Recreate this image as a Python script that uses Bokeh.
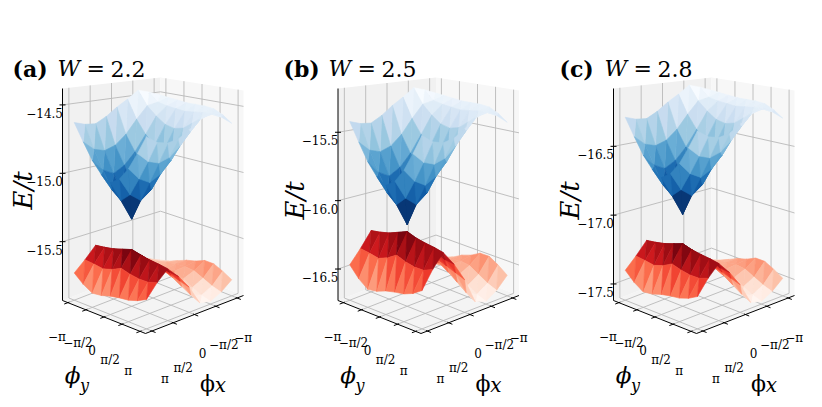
import numpy as np
from bokeh.plotting import figure
from bokeh.models import Range1d
from bokeh.embed import file_html
from bokeh.resources import INLINE
from bokeh.core.properties import value
from bokeh.palettes import Blues256, Reds256

# ---------------- data ----------------
panel_tags = ["(a)", "(b)", "(c)"]
w_values = ["2.2", "2.5", "2.8"]
# grid nodes of the twist angles, in units of pi (rows: phi_y, columns: phi_x)
phi_nodes = [-1.0, -0.75, -0.5, -0.25, 0.0, 0.25, 0.5, 0.75, 1.0]
phi_ticks = [-1.0, -0.5, 0.0, 0.5, 1.0]
phi_tick_labels = ["−π", "−π/2", "0", "π/2", "π"]
z_ticks = [[-14.5, -15.0, -15.5], [-15.5, -16.0, -16.5], [-16.5, -17.0, -17.5]]
z_tick_labels = [["−14.5", "−15.0", "−15.5"],
                 ["−15.5", "−16.0", "−16.5"],
                 ["−16.5", "−17.0", "−17.5"]]
z_limits = [(-15.93, -14.38), (-16.73, -15.18), (-17.62, -16.08)]
upper_band_range = [(-15.30, -14.45), (-16.14, -15.23), (-16.96, -16.11)]
lower_band_range = [(-15.91, -15.52), (-16.71, -16.19), (-17.60, -17.17)]
# relative height inside each band (0 = band minimum, 1 = band maximum)
upper_band_shape = [
    [0.93, 0.97, 1.00, 0.93, 0.87, 0.80, 0.75, 0.76, 0.79],
    [0.92, 0.89, 0.87, 0.76, 0.64, 0.56, 0.53, 0.56, 0.64],
    [0.91, 0.87, 0.79, 0.64, 0.50, 0.40, 0.35, 0.40, 0.50],
    [0.90, 0.86, 0.73, 0.56, 0.40, 0.25, 0.18, 0.25, 0.40],
    [0.90, 0.85, 0.71, 0.53, 0.35, 0.18, 0.00, 0.18, 0.35],
    [0.90, 0.86, 0.73, 0.56, 0.40, 0.25, 0.18, 0.25, 0.40],
    [0.89, 0.87, 0.79, 0.64, 0.50, 0.40, 0.35, 0.40, 0.50],
    [0.85, 0.87, 0.85, 0.75, 0.64, 0.56, 0.53, 0.56, 0.64],
    [0.79, 0.86, 0.90, 0.86, 0.79, 0.73, 0.71, 0.73, 0.79],
]
lower_band_shape = [
    [0.10, 0.21, 0.33, 0.46, 0.59, 0.72, 0.85, 0.64, 0.46],
    [0.15, 0.23, 0.28, 0.41, 0.56, 0.72, 0.87, 0.62, 0.31],
    [0.23, 0.28, 0.26, 0.38, 0.56, 0.74, 0.90, 0.59, 0.21],
    [0.31, 0.31, 0.28, 0.38, 0.59, 0.79, 0.95, 0.64, 0.23],
    [0.36, 0.33, 0.31, 0.41, 0.62, 0.82, 1.00, 0.72, 0.28],
    [0.44, 0.31, 0.23, 0.33, 0.56, 0.77, 0.95, 0.67, 0.31],
    [0.44, 0.23, 0.13, 0.23, 0.51, 0.74, 0.92, 0.64, 0.33],
    [0.36, 0.15, 0.05, 0.13, 0.46, 0.69, 0.90, 0.64, 0.38],
    [0.26, 0.10, 0.00, 0.05, 0.41, 0.67, 0.87, 0.69, 0.46],
]

# ---------------- layout / projection ----------------
W_PX, H_PX = 820, 405
BOX_OX = [0.0, 275.5, 551.0]
TITLE_OX = [0.0, 271.0, 547.0]
YLABEL_POS = [(22, 190), (294, 200), (569, 200)]
MARGIN = 0.065
PHIY_LBL_OFF = [(-11, 34), (-8, 33), (-12, 33), (-12, 36), (-12, 40)]
PHIX_LBL_OFF = [(6, 40), (8, 39), (8, 38), (10, 45), (13, 48)]
SERIF = value("DejaVu Serif")


def to_ab(phx, phy):
    a = MARGIN + (1 - 2 * MARGIN) * (np.asarray(phy, float) + 1) / 2
    b = MARGIN + (1 - 2 * MARGIN) * (1 - np.asarray(phx, float)) / 2
    return a, b


def proj(a, b, t, ox):
    a = np.asarray(a, float); b = np.asarray(b, float); t = np.asarray(t, float)
    x = ox + 62 + 83 * a + 98 * b
    yf = 300 + 33 * a - 38 * b
    h = 212 * (1 - a) * (1 - b) + 232 * a * (1 - b) + 205 * a * b + 185 * (1 - a) * b
    return x, yf - h * t


def depth(a, b, t):
    return 90.8 * a - 76.9 * b + 84.8 * t


def lum(hx):
    return int(hx[1:3], 16) + int(hx[3:5], 16) + int(hx[5:7], 16)


blues = list(Blues256)
if lum(blues[0]) > lum(blues[-1]):
    blues = blues[::-1]
reds = list(Reds256)
if lum(reds[0]) > lum(reds[-1]):
    reds = reds[::-1]

p = figure(width=W_PX, height=H_PX, x_range=Range1d(0, W_PX),
           y_range=Range1d(H_PX, 0), output_backend="svg",
           toolbar_location=None, x_axis_type=None, y_axis_type=None,
           min_border=0)
p.outline_line_color = None
p.background_fill_color = "white"
p.border_fill_color = "white"

nodes = np.array(phi_nodes)
PX, PY = np.meshgrid(nodes, nodes)
A, B = to_ab(PX, PY)

for k in range(3):
    ox = BOX_OX[k]
    zlo, zhi = z_limits[k]

    # panes: floor, wall at phi_y = min (a=0), wall at phi_x = min (b=1)
    sq = [(0, 0), (1, 0), (1, 1), (0, 1)]
    pxs, pys = [], []
    x, y = proj([c[0] for c in sq], [c[1] for c in sq], [0] * 4, ox)
    pxs.append(list(x)); pys.append(list(y))
    x, y = proj([0] * 4, [c[0] for c in sq], [c[1] for c in sq], ox)
    pxs.append(list(x)); pys.append(list(y))
    x, y = proj([c[0] for c in sq], [1] * 4, [c[1] for c in sq], ox)
    pxs.append(list(x)); pys.append(list(y))
    p.patches(pxs, pys, fill_color=["#f4f4f4", "#f1f1f1", "#f7f7f7"], line_color=None)

    # grid lines
    gx, gy = [], []
    tick_a, _ = to_ab(np.zeros(5), phi_ticks)
    _, tick_b = to_ab(phi_ticks, np.zeros(5))
    tz = [(z - zlo) / (zhi - zlo) for z in z_ticks[k]]
    for bb in tick_b:
        x, y = proj([0, 1], [bb, bb], [0, 0], ox); gx.append(list(x)); gy.append(list(y))
        x, y = proj([0, 0], [bb, bb], [0, 1], ox); gx.append(list(x)); gy.append(list(y))
    for aa in tick_a:
        x, y = proj([aa, aa], [0, 1], [0, 0], ox); gx.append(list(x)); gy.append(list(y))
        x, y = proj([aa, aa], [1, 1], [0, 1], ox); gx.append(list(x)); gy.append(list(y))
    for tt in tz:
        x, y = proj([0, 0], [0, 1], [tt, tt], ox); gx.append(list(x)); gy.append(list(y))
        x, y = proj([0, 1], [1, 1], [tt, tt], ox); gx.append(list(x)); gy.append(list(y))
    p.multi_line(gx, gy, line_color="#b9b9b9", line_width=0.9)

    # axis lines and tick marks
    ax_x, ax_y = [], []
    x, y = proj([0, 0], [0, 0], [0, 1], ox); ax_x.append(list(x)); ax_y.append(list(y))
    x, y = proj([0, 1], [0, 0], [0, 0], ox); ax_x.append(list(x)); ax_y.append(list(y))
    x, y = proj([1, 1], [0, 1], [0, 0], ox); ax_x.append(list(x)); ax_y.append(list(y))
    for aa in tick_a:
        x, y = proj([aa], [0], [0], ox)
        ax_x.append([x[0] + 1.4, x[0] - 3.7]); ax_y.append([y[0] - 0.5, y[0] + 1.4])
    for bb in tick_b:
        x, y = proj([1], [bb], [0], ox)
        ax_x.append([x[0] - 1.4, x[0] + 3.7]); ax_y.append([y[0] - 0.5, y[0] + 1.5])
    for tt in tz:
        x, y = proj([0], [0], [tt], ox)
        ax_x.append([x[0] - 3, x[0] + 3]); ax_y.append([y[0], y[0]])
    p.multi_line(ax_x, ax_y, line_color="black", line_width=1.0)

    # surfaces: each grid cell drawn as two triangles of data nodes,
    # painted far to near
    faces = []
    for shape, rng, kind in ((upper_band_shape, upper_band_range[k], "up"),
                             (lower_band_shape, lower_band_range[k], "low")):
        Z = rng[0] + (rng[1] - rng[0]) * np.array(shape)
        T = (Z - zlo) / (zhi - zlo)
        X, Y = proj(A, B, T, ox)
        D = depth(A, B, T)
        avg = []
        polys = []
        for i in range(8):
            for j in range(8):
                for idx in ([(i, j), (i, j + 1), (i + 1, j + 1)],
                            [(i, j), (i + 1, j + 1), (i + 1, j)]):
                    xs = [X[q] for q in idx]
                    ys = [Y[q] for q in idx]
                    polys.append((xs, ys, np.mean([D[q] for q in idx])))
                    avg.append(np.mean([Z[q] for q in idx]))
        avg = np.array(avg)
        u = (avg - avg.min()) / (avg.max() - avg.min())
        for (xs, ys, dav), uu in zip(polys, u):
            if kind == "up":
                col = blues[int(round(uu * 255))]
            else:
                col = reds[int(round((1 - uu) * 255))]
            faces.append((dav, xs, ys, col))
    faces.sort(key=lambda f: f[0])
    p.patches([f[1] for f in faces], [f[2] for f in faces],
              fill_color=[f[3] for f in faces], line_color=[f[3] for f in faces],
              line_width=0.6)

    # z tick labels
    zl_x, zl_y = [], []
    for tt in tz:
        x, y = proj([0], [0], [tt], ox)
        zl_x.append(x[0] + 0.5); zl_y.append(y[0] + 8)
    p.text(zl_x, zl_y, text=z_tick_labels[k], text_font=SERIF,
           text_font_size=value("12px"), text_align="right", text_baseline="middle",
           text_color="black")

    # phi tick labels
    lx, ly = [], []
    for aa, off in zip(tick_a, PHIY_LBL_OFF):
        x, y = proj([aa], [0], [0], ox)
        lx.append(x[0] + off[0]); ly.append(y[0] + off[1])
    for bb, off in zip(tick_b, PHIX_LBL_OFF):
        x, y = proj([1], [bb], [0], ox)
        lx.append(x[0] + off[0]); ly.append(y[0] + off[1])
    p.text(lx, ly, text=phi_tick_labels + phi_tick_labels, text_font=SERIF,
           text_font_size=value("12px"), text_align="center", text_baseline="middle",
           text_color="black")

    # axis labels
    p.text([ox + 72], [374], text=["ϕ"], text_font=SERIF, text_font_size=value("23px"),
           text_font_style="italic", text_align="center", text_baseline="middle")
    p.text([ox + 84], [385], text=["y"], text_font=SERIF, text_font_size=value("16px"),
           text_font_style="italic", text_align="center", text_baseline="middle")
    p.text([ox + 207], [383], text=["ϕ"], text_font=SERIF, text_font_size=value("22px"),
           text_align="center", text_baseline="middle")
    p.text([ox + 220], [384], text=["x"], text_font=SERIF, text_font_size=value("20px"),
           text_font_style="italic", text_align="center", text_baseline="middle")
    yx, yy = YLABEL_POS[k]
    p.text([yx], [yy], text=["E/t"], text_font=SERIF, text_font_size=value("26px"),
           text_font_style="italic", text_align="center", text_baseline="alphabetic",
           angle=np.pi / 2)

    # title
    tox = TITLE_OX[k]
    p.text([tox + 12], [68], text=[panel_tags[k]], text_font=SERIF,
           text_font_size=value("22px"), text_font_style="bold",
           text_align="left", text_baseline="alphabetic")
    p.text([tox + 57], [68], text=["W"], text_font=SERIF,
           text_font_size=value("22px"), text_font_style="italic",
           text_align="left", text_baseline="alphabetic")
    p.text([tox + 86], [68], text=["="], text_font=SERIF,
           text_font_size=value("22px"), text_align="left", text_baseline="alphabetic")
    p.text([tox + 110], [68], text=[w_values[k]], text_font=SERIF,
           text_font_size=value("22px"), text_align="left", text_baseline="alphabetic")

open("out.html", "w").write(file_html(p, INLINE))
